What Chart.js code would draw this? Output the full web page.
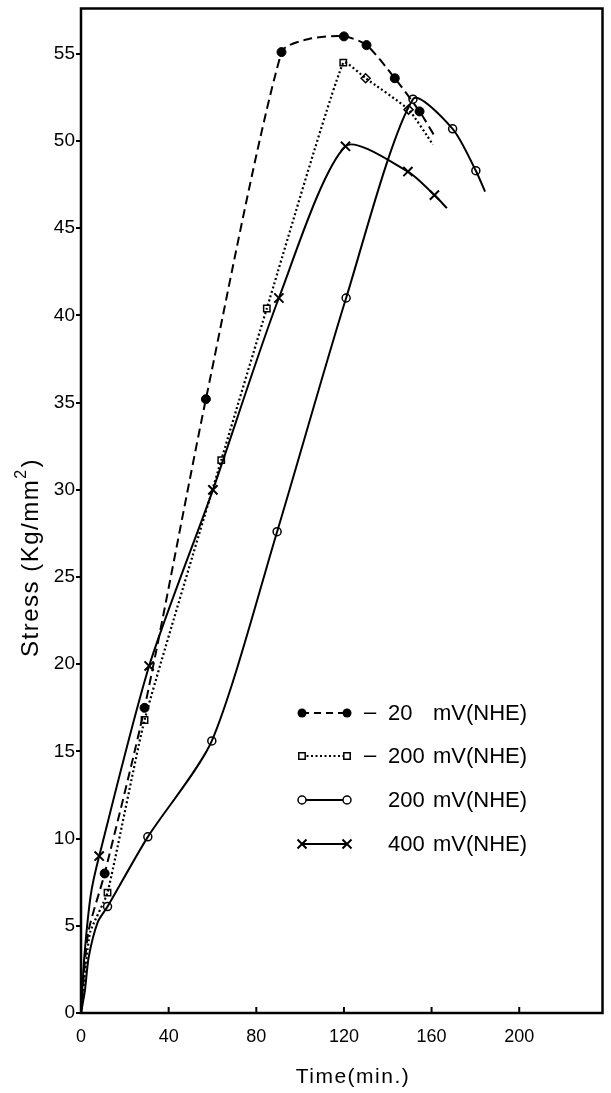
<!DOCTYPE html>
<html>
<head>
<meta charset="utf-8">
<script src="https://cdn.jsdelivr.net/npm/chart.js@4/dist/chart.umd.min.js"></script>
<style>
  html, body { margin: 0; padding: 0; background: #fff; }
  canvas { display: block; }
</style>
</head>
<body>
<canvas id="stressChart" width="611" height="1093"></canvas>
<script>
// axis ticks
const timeTicks = [0, 40, 80, 120, 160, 200];
const stressTicks = [0, 5, 10, 15, 20, 25, 30, 35, 40, 45, 50, 55];

// -20 mV (NHE): measured points and drawn curve
const neg20Time = [10.8, 29, 57, 91.5, 120, 130.3, 143.2, 154.5];
const neg20Stress = [8.0, 17.5, 35.2, 55.1, 56.0, 55.5, 53.6, 51.7];
const neg20CurveTime = [0, 3.3, 10.8, 29, 57, 91.5, 104, 120, 130.3, 143.2, 154.5, 161.3];
const neg20CurveStress = [0, 4.6, 8.0, 17.5, 35.2, 55.1, 55.85, 56.0, 55.5, 53.6, 51.7, 50.3];

// -200 mV (NHE): squares, then diamonds after the peak
const neg200Time = [12.1, 29, 64, 84.8, 119.7];
const neg200Stress = [6.9, 16.8, 31.7, 40.4, 54.5];
const neg200DiamondTime = [129.9, 149.5];
const neg200DiamondStress = [53.6, 51.8];
const neg200CurveTime = [0, 4.1, 12.1, 29, 64, 84.8, 119.7, 129.9, 149.5, 160.6];
const neg200CurveStress = [0, 4.6, 6.9, 16.8, 31.7, 40.4, 54.5, 53.6, 51.8, 49.8];

// 200 mV (NHE)
const pos200Time = [12.1, 30.5, 59.7, 89.5, 121, 151.5, 169.6, 180.2];
const pos200Stress = [6.1, 10.1, 15.6, 27.6, 41.0, 52.4, 50.7, 48.3];
const pos200CurveTime = [0, 1.8, 3.5, 7.6, 12.1, 30.5, 59.7, 89.5, 121, 151.5, 169.6, 180.2, 184.4];
const pos200CurveStress = [0, 1.3, 3.2, 5.2, 6.1, 10.1, 15.6, 27.6, 41.0, 52.4, 50.7, 48.3, 47.1];

// 400 mV (NHE)
const pos400Time = [8.3, 31.1, 60.2, 90.3, 120.7, 149.2, 161.3];
const pos400Stress = [9.0, 19.9, 30.0, 41.0, 49.7, 48.25, 46.9];
const pos400CurveTime = [0, 1.5, 4.5, 8.3, 31.1, 60.2, 90.3, 120.7, 149.2, 161.3, 167];
const pos400CurveStress = [0, 3.2, 6.8, 9.0, 19.9, 30.0, 41.0, 49.7, 48.25, 46.9, 46.15];

// legend text
const legendSigns = ["\u2013", "\u2013", "", ""];
const legendValues = ["20", "200", "200", "400"];
const legendUnit = "mV(NHE)";

const FONT = "'Liberation Sans', Arial, sans-serif";

function toXY(xs, ys) {
  return xs.map((x, i) => ({ x: x, y: ys[i] }));
}

function curve(xs, ys, dash, width, tension) {
  return {
    data: toXY(xs, ys),
    showLine: true,
    borderColor: "#000",
    borderWidth: width,
    borderDash: dash,
    borderCapStyle: "butt",
    tension: tension,
    pointRadius: 0,
    pointHoverRadius: 0,
  };
}

function markers(xs, ys, style, radius, fill, width) {
  return {
    data: toXY(xs, ys),
    showLine: false,
    pointStyle: style,
    pointRadius: radius,
    pointHoverRadius: radius,
    pointBackgroundColor: fill,
    pointBorderColor: "#000",
    pointBorderWidth: width,
  };
}

// small marker painter for the legend
function drawMarker(ctx, style, x, y) {
  ctx.save();
  ctx.setLineDash([]);
  ctx.strokeStyle = "#000";
  ctx.beginPath();
  if (style === "dot") {
    ctx.fillStyle = "#000";
    ctx.arc(x, y, 4.5, 0, Math.PI * 2);
    ctx.fill();
  } else if (style === "square") {
    ctx.fillStyle = "#fff";
    ctx.lineWidth = 1.5;
    ctx.rect(x - 3.2, y - 3.2, 6.4, 6.4);
    ctx.fill();
    ctx.stroke();
  } else if (style === "ring") {
    ctx.fillStyle = "#fff";
    ctx.lineWidth = 1.5;
    ctx.arc(x, y, 4, 0, Math.PI * 2);
    ctx.fill();
    ctx.stroke();
  } else {
    ctx.lineWidth = 2;
    ctx.moveTo(x - 4.5, y - 4.5);
    ctx.lineTo(x + 4.5, y + 4.5);
    ctx.moveTo(x + 4.5, y - 4.5);
    ctx.lineTo(x - 4.5, y + 4.5);
    ctx.stroke();
  }
  ctx.restore();
}

const framePlugin = {
  id: "frame",
  afterDraw(chart) {
    const ctx = chart.ctx;
    const a = chart.chartArea;
    const xs = chart.scales.x;

    ctx.save();
    // box round the plot
    ctx.strokeStyle = "#000";
    ctx.lineWidth = 2.5;
    ctx.strokeRect(a.left, a.top, a.right - a.left, a.bottom - a.top);

    // inward x ticks
    ctx.lineWidth = 2;
    timeTicks.slice(1).forEach((v) => {
      const px = xs.getPixelForValue(v);
      ctx.beginPath();
      ctx.moveTo(px, a.bottom);
      ctx.lineTo(px, a.bottom - 6);
      ctx.stroke();
    });

    // axis titles
    ctx.fillStyle = "#000";
    ctx.letterSpacing = "1.5px";
    ctx.font = "21px " + FONT;
    ctx.textAlign = "center";
    ctx.textBaseline = "middle";
    ctx.fillText("Time(min.)", 353, 1077);

    ctx.save();
    ctx.translate(31, 558);
    ctx.rotate(-Math.PI / 2);
    ctx.font = "24px " + FONT;
    ctx.textAlign = "left";
    const main = "Stress (Kg/mm";
    const wMain = ctx.measureText(main).width;
    ctx.font = "16px " + FONT;
    const wSup = ctx.measureText("2").width;
    ctx.font = "24px " + FONT;
    const wEnd = ctx.measureText(")").width;
    let x0 = -(wMain + wSup + wEnd) / 2;
    ctx.fillText(main, x0, 0);
    ctx.font = "16px " + FONT;
    ctx.fillText("2", x0 + wMain, -9);
    ctx.font = "24px " + FONT;
    ctx.fillText(")", x0 + wMain + wSup + 1, 0);
    ctx.restore();

    // legend
    const rows = [713, 756, 800, 844];
    const styles = ["dot", "square", "ring", "cross"];
    const dashes = [[7, 5], [2, 2.5], [], []];
    rows.forEach((y, i) => {
      ctx.save();
      ctx.lineWidth = 2;
      ctx.setLineDash(dashes[i]);
      ctx.beginPath();
      ctx.moveTo(302, y);
      ctx.lineTo(347, y);
      ctx.stroke();
      ctx.restore();
      drawMarker(ctx, styles[i], 302, y);
      drawMarker(ctx, styles[i], 347, y);

      ctx.letterSpacing = "0px";
      ctx.font = "22px " + FONT;
      ctx.textAlign = "center";
      if (legendSigns[i]) ctx.fillText(legendSigns[i], 370, y);
      ctx.textAlign = "left";
      ctx.fillText(legendValues[i], 388, y + 1);
      ctx.fillText(legendUnit, 433, y + 1);
    });
    ctx.restore();
  },
};

function createChart() {
  const ctx = document.getElementById("stressChart").getContext("2d");
  Chart.defaults.font.family = FONT;
  Chart.defaults.color = "#000";

  return new Chart(ctx, {
    type: "scatter",
    data: {
      datasets: [
        curve(neg20CurveTime, neg20CurveStress, [9, 5], 2, 0.25),
        curve(neg200CurveTime, neg200CurveStress, [2, 2.5], 2.2, 0.15),
        curve(pos200CurveTime, pos200CurveStress, [], 2, 0.25),
        curve(pos400CurveTime, pos400CurveStress, [], 2, 0.25),
        markers(neg20Time, neg20Stress, "circle", 4.5, "#000", 1),
        markers(neg200Time, neg200Stress, "rect", 4.5, "#fff", 1.5),
        markers(neg200DiamondTime, neg200DiamondStress, "rectRot", 4.5, "#fff", 1.5),
        markers(pos200Time, pos200Stress, "circle", 4, "#fff", 1.5),
        markers(pos400Time, pos400Stress, "crossRot", 6.5, "#000", 2),
      ],
    },
    options: {
      responsive: false,
      animation: false,
      devicePixelRatio: 1,
      layout: { padding: { top: 6, right: 4, left: 0, bottom: 0 } },
      plugins: { legend: { display: false }, tooltip: { enabled: false } },
      scales: {
        x: {
          type: "linear",
          min: 0,
          max: 238,
          grid: { display: false },
          border: { display: false },
          afterBuildTicks: (s) => { s.ticks = timeTicks.map((v) => ({ value: v })); },
          afterFit: (s) => { s.height = 80; s.paddingLeft = 0; s.paddingRight = 0; },
          ticks: { font: { size: 18 }, padding: 5, maxRotation: 0 },
        },
        y: {
          type: "linear",
          min: 0,
          max: 57.6,
          grid: { drawOnChartArea: false, tickLength: 5, color: "#000", lineWidth: 2 },
          border: { display: false },
          afterBuildTicks: (s) => { s.ticks = stressTicks.map((v) => ({ value: v })); },
          afterFit: (s) => { s.width = 81; s.paddingTop = 0; s.paddingBottom = 0; },
          ticks: { font: { size: 19 }, padding: 1 },
        },
      },
    },
    plugins: [framePlugin],
  });
}

createChart();
</script>
</body>
</html>
